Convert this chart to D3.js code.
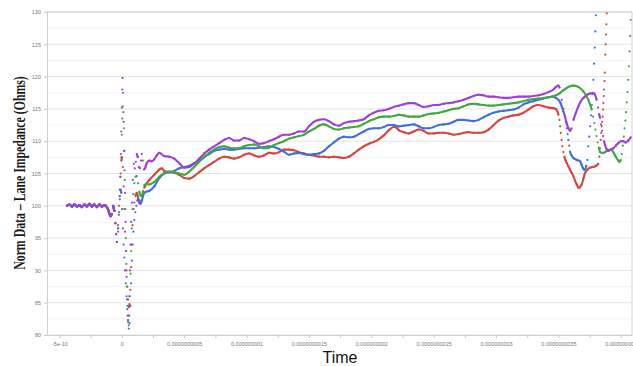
<!DOCTYPE html>
<html>
<head>
<meta charset="utf-8">
<script src="https://cdn.jsdelivr.net/npm/d3@7"></script>
<style>
  body { margin: 0; background: #fff; }
  .tick text { font-family: "Liberation Sans", Arial, sans-serif; font-size: 5.5px; fill: #777; }
  .tick line { stroke: #c8c8c8; }
  .domain { stroke: #cfcfcf; }
</style>
</head>
<body>
<div id="chart"></div>
<script>
// time in ns, value in Ohms
const leadIn = [[-0.44,100.0],[-0.42,100.2],[-0.40,99.9],[-0.38,100.2],[-0.36,99.9],[-0.34,100.1],[-0.32,99.8],[-0.30,100.2],
  [-0.28,99.9],[-0.26,100.3],[-0.24,99.9],[-0.22,100.2],[-0.20,99.8],[-0.18,100.2],[-0.16,99.9],[-0.14,100.1]];
const dipShared = [[-0.12,99.8],[-0.11,99.4],[-0.1,98.8],[-0.09,98.4],[-0.08,98.7],[-0.07,100.0],[-0.06,99.2],[-0.052,97.3],[-0.046,95.6],[-0.04,94.4]];

const purpleVals = [[-0.03,96.0],[-0.024,98.6],[-0.018,101.5],[-0.013,104.5],[-0.008,108.0],[-0.004,111.5],[0.0,115.2],[0.003,118.0],[0.006,119.8],
  [0.01,117.5],[0.014,113.0],[0.018,108.5],[0.022,105.5],[0.026,102.0],[0.03,97.5],[0.034,93.0],[0.038,89.0],[0.042,85.5],[0.046,83.0],[0.05,82.0],
  [0.055,83.0],[0.06,86.0],[0.065,90.0],[0.07,94.0],[0.075,97.5],[0.08,100.5],[0.088,104.0],[0.096,106.5],[0.104,105.8],[0.112,106.8],[0.12,108.0],
  [0.128,107.5],[0.136,106.0],[0.146,105.8],[0.154,107.0],[0.16,108.0],[0.168,107.0],[0.178,105.6],[0.19,106.0],[0.2,106.6],[0.22,107.0],[0.24,106.9],
  [0.26,107.2],[0.28,107.8],[0.3,108.2],[0.34,107.7],[0.38,107.6],[0.42,107.3],[0.46,106.6],[0.5,105.9],[0.54,106.0],[0.58,106.5],[0.62,107.3],
  [0.66,108.1],[0.7,108.7],[0.74,109.2],[0.78,109.7],[0.82,110.2],[0.86,110.5],[0.9,110.1],[0.94,110.1],[0.98,110.5],[1.02,110.3],[1.06,110.0],
  [1.1,109.6],[1.14,109.7],[1.18,110.0],[1.22,110.3],[1.26,110.7],[1.3,111.0],[1.34,111.0],[1.38,111.2],[1.42,111.5],[1.46,111.5],[1.5,112.3],
  [1.54,113.0],[1.58,113.3],[1.62,113.4],[1.66,113.1],[1.7,112.6],[1.74,112.4],[1.78,112.8],[1.82,113.0],[1.86,113.1],[1.9,113.2],[1.94,113.4],
  [1.98,114.0],[2.02,114.4],[2.06,114.7],[2.1,114.8],[2.14,115.0],[2.18,115.3],[2.22,115.5],[2.26,115.7],[2.3,115.9],[2.34,115.9],[2.38,115.6],
  [2.42,115.3],[2.46,115.4],[2.5,115.6],[2.54,115.6],[2.58,115.8],[2.62,115.9],[2.66,116.0],[2.7,116.2],[2.74,116.4],[2.78,116.7],[2.82,117.0],
  [2.86,117.2],[2.9,117.1],[2.94,116.9],[2.98,116.9],[3.02,116.8],[3.06,116.7],[3.1,116.7],[3.14,116.8],[3.18,116.9],[3.22,116.9],[3.26,116.9],
  [3.3,117.0],[3.34,117.1],[3.38,117.3],[3.42,117.6],[3.46,118.0],[3.48,118.4],[3.5,118.6],[3.51,118.3],[3.527,116.4],[3.54,115.0],[3.553,113.8],
  [3.566,112.8],[3.58,112.0],[3.593,111.6],[3.605,112.0],[3.62,113.3],[3.64,114.4],[3.66,115.4],[3.68,116.2],[3.7,116.7],[3.72,117.0],[3.74,117.3],
  [3.76,117.4],[3.78,117.5],[3.793,117.2],[3.807,116.4],[3.818,115.2],[3.826,114.2],[3.834,113.6],[3.842,112.6],[3.85,111.6],[3.858,110.8],
  [3.866,110.0],[3.874,109.4],[3.886,108.8],[3.9,108.5],[3.92,108.7],[3.94,108.9],[3.96,109.3],[3.98,109.7],[4.0,110.0],[4.02,110.0],[4.04,109.8],
  [4.06,110.1],[4.08,110.6]];

const greenVals = [[-0.03,96.5],[-0.022,99.0],[-0.016,101.5],[-0.01,104.5],[-0.005,107.5],[0.0,111.0],[0.004,113.5],[0.008,115.4],[0.012,114.5],
  [0.016,112.0],[0.02,108.5],[0.024,104.0],[0.028,99.5],[0.032,95.0],[0.036,91.0],[0.04,87.5],[0.045,84.5],[0.05,82.3],[0.055,81.5],[0.06,83.0],
  [0.065,86.0],[0.07,89.5],[0.075,93.0],[0.08,96.5],[0.086,99.5],[0.092,101.8],[0.1,103.5],[0.11,104.5],[0.12,104.6],[0.13,103.5],[0.14,102.2],
  [0.15,101.6],[0.16,101.5],[0.17,102.3],[0.18,103.2],[0.2,103.4],[0.22,103.3],[0.26,103.7],[0.3,104.5],[0.34,105.1],[0.38,105.3],[0.42,105.2],
  [0.46,105.0],[0.5,104.8],[0.54,105.3],[0.58,106.0],[0.62,106.8],[0.66,107.5],[0.7,108.2],[0.74,108.7],[0.78,109.1],[0.82,109.2],[0.86,109.0],
  [0.9,108.9],[0.94,108.9],[0.98,109.2],[1.02,109.4],[1.06,109.5],[1.1,109.2],[1.14,108.9],[1.18,109.0],[1.22,109.4],[1.26,109.7],[1.3,110.0],
  [1.34,110.4],[1.38,110.6],[1.42,110.8],[1.46,111.0],[1.5,111.5],[1.54,111.9],[1.58,112.4],[1.62,112.6],[1.66,112.3],[1.7,111.9],[1.74,111.8],
  [1.78,112.0],[1.82,112.1],[1.86,112.2],[1.9,112.3],[1.94,112.7],[1.98,113.1],[2.02,113.4],[2.06,113.7],[2.1,113.8],[2.14,113.8],[2.18,113.9],
  [2.22,114.1],[2.26,114.0],[2.3,113.8],[2.34,113.8],[2.38,113.8],[2.42,114.0],[2.46,114.2],[2.5,114.3],[2.54,114.4],[2.58,114.6],[2.62,114.8],
  [2.66,115.0],[2.7,115.1],[2.74,115.4],[2.78,115.7],[2.82,115.8],[2.86,115.7],[2.9,115.6],[2.94,115.5],[2.98,115.5],[3.02,115.6],[3.06,115.7],
  [3.1,115.8],[3.14,115.9],[3.18,116.0],[3.22,116.2],[3.26,116.4],[3.3,116.5],[3.34,116.6],[3.38,116.7],[3.42,116.8],[3.46,117.0],[3.5,117.3],
  [3.54,117.9],[3.58,118.4],[3.62,118.6],[3.66,118.4],[3.7,117.7],[3.72,117.1],[3.74,116.4],[3.755,115.6],[3.767,114.9],[3.778,113.8],[3.788,112.8],
  [3.797,111.8],[3.806,110.8],[3.815,109.8],[3.824,109.0],[3.834,108.3],[3.86,108.2],[3.88,108.4],[3.9,108.6],[3.92,108.7],[3.94,108.3],[3.96,107.6],
  [3.98,107.0],[3.99,106.8],[4.0,107.1],[4.008,108.0],[4.016,109.3],[4.024,110.7],[4.03,112.0],[4.036,113.2],[4.042,114.5],[4.048,116.0],[4.054,117.6],
  [4.06,119.5],[4.065,121.6],[4.07,123.9],[4.075,126.3],[4.08,128.8]];

const blueVals = [[-0.03,96.5],[-0.022,99.0],[-0.016,101.0],[-0.01,102.5],[-0.004,102.0],[0.002,99.5],[0.008,96.5],[0.014,94.0],[0.02,92.0],
  [0.026,90.0],[0.032,88.0],[0.038,86.0],[0.044,84.0],[0.05,82.3],[0.056,81.0],[0.062,81.8],[0.068,84.5],[0.074,88.0],[0.08,91.5],[0.086,94.0],
  [0.092,96.0],[0.1,97.8],[0.108,99.0],[0.116,100.0],[0.124,100.8],[0.132,101.0],[0.14,100.6],[0.15,100.4],[0.16,100.8],[0.17,101.5],[0.18,102.0],
  [0.2,102.2],[0.22,102.3],[0.26,103.0],[0.3,104.3],[0.34,105.0],[0.38,105.2],[0.42,105.4],[0.46,105.8],[0.5,106.0],[0.54,106.2],[0.58,106.6],
  [0.62,107.0],[0.66,107.6],[0.7,108.0],[0.74,108.5],[0.78,108.7],[0.82,108.8],[0.86,108.7],[0.9,108.7],[0.94,108.8],[0.98,108.9],[1.02,108.9],
  [1.06,108.9],[1.1,109.0],[1.14,109.1],[1.18,109.2],[1.22,109.1],[1.26,108.8],[1.3,108.4],[1.34,107.9],[1.38,108.1],[1.42,108.2],[1.46,108.0],
  [1.5,107.9],[1.54,108.0],[1.58,108.1],[1.62,108.5],[1.66,109.2],[1.7,109.8],[1.74,110.4],[1.78,110.7],[1.82,110.6],[1.86,110.7],[1.9,111.1],
  [1.94,111.5],[1.98,111.9],[2.02,112.0],[2.06,112.0],[2.1,112.2],[2.14,112.5],[2.18,112.5],[2.22,112.3],[2.26,112.4],[2.3,112.5],[2.34,112.6],
  [2.38,112.3],[2.42,112.0],[2.46,112.0],[2.5,112.2],[2.54,112.5],[2.58,112.6],[2.62,112.7],[2.66,113.0],[2.7,113.3],[2.74,113.3],[2.78,113.2],
  [2.82,113.1],[2.86,113.3],[2.9,113.7],[2.94,114.1],[2.98,114.4],[3.02,114.6],[3.06,114.7],[3.1,114.8],[3.14,114.9],[3.18,115.2],[3.22,115.7],
  [3.26,116.0],[3.3,116.2],[3.34,116.4],[3.38,116.6],[3.42,116.8],[3.46,116.9],[3.48,116.7],[3.5,116.4],[3.515,116.0],[3.527,115.4],[3.54,114.6],
  [3.553,113.8],[3.56,113.0],[3.567,112.0],[3.574,111.1],[3.58,110.2],[3.587,109.3],[3.593,108.4],[3.605,107.8],[3.62,107.4],[3.647,107.1],
  [3.674,106.9],[3.685,106.4],[3.695,105.9],[3.705,105.6],[3.714,105.6],[3.724,106.2],[3.732,107.1],[3.74,109.2],[3.748,110.7],[3.755,112.3],
  [3.762,114.0],[3.768,115.6],[3.774,117.3],[3.78,119.5],[3.786,122.0],[3.791,124.5],[3.796,127.0],[3.8,129.5]];

const redVals = [[-0.03,97.0],[-0.022,100.0],[-0.016,102.5],[-0.01,105.0],[-0.004,107.0],[0.002,107.5],[0.008,106.0],[0.014,103.0],[0.02,99.5],
  [0.026,96.0],[0.032,93.0],[0.038,90.0],[0.044,87.5],[0.05,85.5],[0.056,84.3],[0.062,84.8],[0.068,87.0],[0.074,90.5],[0.08,94.0],[0.086,97.0],
  [0.094,99.5],[0.1,100.5],[0.11,101.5],[0.12,102.0],[0.13,101.3],[0.14,100.5],[0.15,100.3],[0.16,100.9],[0.17,101.8],[0.18,102.8],[0.2,103.5],
  [0.22,104.0],[0.26,104.8],[0.3,105.6],[0.32,105.8],[0.34,105.4],[0.38,105.2],[0.42,105.1],[0.46,104.8],[0.5,104.3],[0.54,104.2],[0.58,104.6],
  [0.62,105.2],[0.66,105.8],[0.7,106.3],[0.74,106.8],[0.78,107.3],[0.82,107.6],[0.86,107.5],[0.9,107.3],[0.94,107.5],[0.98,107.9],[1.02,108.1],
  [1.06,107.8],[1.1,107.6],[1.14,107.8],[1.18,108.2],[1.22,108.1],[1.26,108.3],[1.3,108.7],[1.34,108.7],[1.38,108.6],[1.42,108.3],[1.46,108.1],
  [1.5,107.9],[1.54,107.8],[1.58,107.6],[1.62,107.6],[1.66,107.5],[1.7,107.6],[1.74,107.5],[1.78,107.4],[1.82,107.6],[1.86,108.1],[1.9,108.7],
  [1.94,109.2],[1.98,109.6],[2.02,109.9],[2.06,110.3],[2.1,110.9],[2.14,111.7],[2.18,112.2],[2.2,112.1],[2.22,111.7],[2.26,111.4],[2.3,111.2],
  [2.34,111.5],[2.38,111.8],[2.42,111.6],[2.46,111.2],[2.5,111.2],[2.54,111.3],[2.58,111.3],[2.62,111.2],[2.66,111.0],[2.7,111.1],[2.74,111.3],
  [2.78,111.4],[2.82,111.3],[2.86,111.3],[2.9,111.4],[2.94,111.8],[2.98,112.5],[3.02,113.2],[3.06,113.6],[3.1,113.8],[3.14,114.0],[3.18,114.1],
  [3.22,114.4],[3.26,114.9],[3.3,115.4],[3.34,115.6],[3.38,115.4],[3.42,115.2],[3.46,115.1],[3.48,115.0],[3.49,114.7],[3.5,114.1],[3.508,113.3],
  [3.514,112.3],[3.519,111.3],[3.526,110.2],[3.532,109.2],[3.54,108.3],[3.548,107.6],[3.558,107.0],[3.567,106.6],[3.58,106.1],[3.593,105.6],
  [3.606,105.1],[3.62,104.6],[3.633,103.9],[3.647,103.3],[3.66,102.8],[3.673,102.9],[3.687,103.3],[3.7,104.2],[3.714,105.1],[3.734,105.6],
  [3.754,105.9],[3.774,106.0],[3.794,106.1],[3.81,106.3],[3.82,106.5],[3.828,107.6],[3.834,108.9],[3.839,110.2],[3.843,111.3],[3.847,112.3],
  [3.851,113.0],[3.855,113.8],[3.858,114.9],[3.86,115.9],[3.863,117.0],[3.866,118.0],[3.869,119.3],[3.872,120.6],[3.876,123.4],[3.879,125.0],
  [3.882,126.5],[3.885,128.1],[3.888,129.8]];

const yTicks = [80, 85, 90, 95, 100, 105, 110, 115, 120, 125, 130];

// drawn bottom to top, purple ends up on top
const series = [
  { name: "red",    color: "#d8453f", values: leadIn.concat(dipShared, redVals) },
  { name: "blue",   color: "#3e70de", values: leadIn.concat(dipShared, blueVals) },
  { name: "green",  color: "#3fa93f", values: leadIn.concat(dipShared, greenVals) },
  { name: "purple", color: "#9d40da", values: leadIn.concat(dipShared, purpleVals) }
];

const width = 633, height = 366;
const margin = { top: 12, right: 1, bottom: 31, left: 47 };

const svg = d3.select("#chart").append("svg")
  .attr("width", width)
  .attr("height", height);

const x = d3.scaleLinear()
  .domain([-0.6e-9, 4.09e-9])
  .range([margin.left, width - margin.right]);
const y = d3.scaleLinear()
  .domain([80, 130])
  .range([height - margin.bottom, margin.top]);

// horizontal grid, every 2.5 Ohm with the 5 Ohm lines a bit darker
svg.append("g").selectAll("line")
  .data(d3.range(80, 130.1, 2.5))
  .enter().append("line")
  .attr("x1", margin.left).attr("x2", width - margin.right)
  .attr("y1", d => y(d)).attr("y2", d => y(d))
  .attr("stroke", d => d % 5 === 0 ? "#e4e4e4" : "#f3f3f3")
  .attr("stroke-width", 1);

// frame top/right
svg.append("line")
  .attr("x1", margin.left).attr("x2", width - margin.right)
  .attr("y1", y(130)).attr("y2", y(130))
  .attr("stroke", "#d0d0d0");
svg.append("line")
  .attr("x1", width - margin.right).attr("x2", width - margin.right)
  .attr("y1", y(130)).attr("y2", y(80))
  .attr("stroke", "#d0d0d0");

// axes
const xTickVals = d3.range(-2, 17).map(i => i * 0.25e-9);
const fmtTime = d => {
  if (Math.abs(d) < 1e-15) return "0";
  if (d < 0) return String(+d.toPrecision(3));
  return d.toFixed(10).replace(/0+$/, "");
};
svg.append("g")
  .attr("transform", `translate(0,${y(80)})`)
  .call(d3.axisBottom(x).tickValues(xTickVals).tickSize(3).tickSizeOuter(0)
    .tickFormat((d, i) => i % 2 === 0 ? fmtTime(d) : ""))
  .call(g => g.selectAll(".tick text").attr("dy", "0.9em"));

svg.append("g")
  .attr("transform", `translate(${margin.left},0)`)
  .call(d3.axisLeft(y).tickValues(yTicks).tickSize(3).tickSizeOuter(0));

// clip for the data
svg.append("clipPath").attr("id", "plotClip")
  .append("rect")
  .attr("x", margin.left).attr("y", margin.top - 2)
  .attr("width", width - margin.left - margin.right)
  .attr("height", height - margin.top - margin.bottom + 2);

const plot = svg.append("g").attr("clip-path", "url(#plotClip)");

const line = d3.line()
  .x(d => d.px)
  .y(d => d.py)
  .curve(d3.curveMonotoneX);

// split each trace where it jumps faster than ~4px per px: those parts stay as single samples
function runsOf(pts) {
  const runs = [];
  let cur = [pts[0]];
  for (let i = 1; i < pts.length; i++) {
    const dx = pts[i].px - pts[i - 1].px;
    const dy = Math.abs(pts[i].py - pts[i - 1].py);
    if (dy <= 4 * dx + 0.5) cur.push(pts[i]);
    else { runs.push(cur); cur = [pts[i]]; }
  }
  runs.push(cur);
  return runs;
}

series.forEach(s => {
  const pts = s.values.map(d => ({ px: x(d[0] * 1e-9), py: y(d[1]) }));
  const g = plot.append("g").attr("class", "trace " + s.name);

  g.selectAll("path")
    .data(runsOf(pts).filter(r => r.length > 1))
    .enter().append("path")
    .attr("d", line)
    .attr("fill", "none")
    .attr("stroke", s.color)
    .attr("stroke-width", 2.1)
    .attr("stroke-linejoin", "round");

  g.selectAll("circle")
    .data(pts)
    .enter().append("circle")
    .attr("cx", d => d.px)
    .attr("cy", d => d.py)
    .attr("r", 1.1)
    .attr("fill", s.color);
});

// titles
svg.append("text")
  .attr("transform", `translate(25,173) rotate(-90) scale(1,1.4)`)
  .attr("text-anchor", "middle")
  .style("font-family", "'Liberation Serif', 'Times New Roman', serif")
  .style("font-size", "11.8px")
  .style("font-weight", "bold")
  .style("fill", "#1a1a1a")
  .text("Norm Data \u2013 Lane Impedance (Ohms)");

svg.append("text")
  .attr("x", 340)
  .attr("y", 363)
  .attr("text-anchor", "middle")
  .style("font-family", "'Liberation Sans', Arial, sans-serif")
  .style("font-size", "16px")
  .style("fill", "#111")
  .text("Time");
</script>
</body>
</html>
